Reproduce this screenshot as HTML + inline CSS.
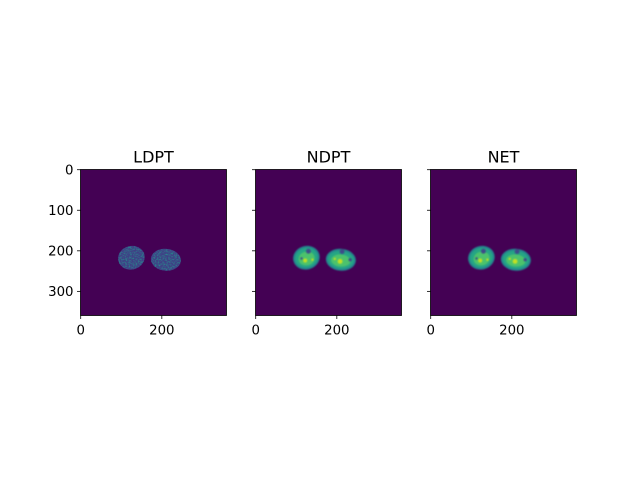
<!DOCTYPE html>
<html><head><meta charset="utf-8"><style>
html,body{margin:0;padding:0;background:#fff;}
svg text{font-family:"DejaVu Sans","Liberation Sans",sans-serif;font-size:13.3px;fill:#000;}
</style></head><body>
<svg id="fig" width="640" height="480" viewBox="0 0 640 480" xmlns="http://www.w3.org/2000/svg">
<defs>
<filter id="noise" x="0" y="0" width="100%" height="100%" color-interpolation-filters="sRGB">
<feTurbulence type="fractalNoise" baseFrequency="0.7" numOctaves="1" seed="3"/>
<feColorMatrix type="matrix" values="0 0 0 0 0.15  0 0 0 0 0.55  0 0 0 0 0.55  0 0 0 3 -1.3"/>
<feComposite in2="SourceGraphic" operator="in"/>
</filter>
<filter id="blur1" color-interpolation-filters="sRGB"><feGaussianBlur stdDeviation="0.8"/></filter>
</defs>
</svg>
<script>
const panelTitles = ["LDPT", "NDPT", "NET"];
const xTicks = [0, 200];
const yTicks = [0, 100, 200, 300];
const extent = [360, 360];
// blob: [cx, cy, rx, ry, rotation]
const blobs = [[125, 217, 33, 29, -15], [210, 222, 37, 27, 5]];
// hot spots (yellow): [x, y, r]
const hotSpots = [[122, 224, 5], [140, 222, 3], [208, 226, 6], [195, 220, 3]];
// cold holes: [x, y, r]
const holes = [[130, 201, 6], [213, 202, 6], [113, 219, 3], [233, 222, 4]];

const NS = "http://www.w3.org/2000/svg";
const svg = document.getElementById("fig");
const left0 = 80.5, top0 = 169.5, size = 146, gap = 175;
function mk(tag, attrs, parent){const e=document.createElementNS(NS,tag);for(const k in attrs)e.setAttribute(k,attrs[k]);(parent||svg).appendChild(e);return e;}

panelTitles.forEach((title, i) => {
  const x0 = left0 + i*gap;
  const sx = v => x0 + (v + 0.5) * size / extent[0];
  const sy = v => top0 + (v + 0.5) * size / extent[1];
  const s = size / extent[0];
  const g = mk("g", {});
  
  
  const clipId = "clip" + i;
  const cp = mk("clipPath", {id: clipId}, g);
  mk("rect", {x: x0, y: top0, width: size, height: size}, cp);
  const bg = mk("rect", {x: x0, y: top0, width: size, height: size, fill: "#440154"}, g);
  
  
  const ig = mk("g", {"clip-path": "url(#" + clipId + ")"}, g);
  blobs.forEach((b, j) => {
    const tr = "rotate(" + b[4] + " " + sx(b[0]) + " " + sy(b[1]) + ")";
    if (i === 0) {
      const e = mk("ellipse", {cx: sx(b[0]), cy: sy(b[1]), rx: b[2]*s, ry: b[3]*s, fill: "#3f3f86", transform: tr}, ig);
      
      
      mk("ellipse", {cx: sx(b[0]), cy: sy(b[1]), rx: b[2]*s, ry: b[3]*s, fill: "#fff", filter: "url(#noise)", transform: tr}, ig);
    } else {
      const bg2 = mk("g", {filter: "url(#blur1)"}, ig);
      const e = mk("ellipse", {cx: sx(b[0]), cy: sy(b[1]), rx: b[2]*s, ry: b[3]*s, fill: "#24878e", transform: tr}, bg2);
      
      
      mk("ellipse", {cx: sx(b[0]), cy: sy(b[1]), rx: (b[2]-5)*s, ry: (b[3]-5)*s, fill: "#25a584", transform: tr}, bg2);
      mk("ellipse", {cx: sx(b[0]), cy: sy(b[1])+2*s, rx: (b[2]-13)*s, ry: (b[3]-12)*s, fill: "#4cc26c", transform: tr}, bg2);
      hotSpots.filter(h => Math.abs(h[0]-b[0]) < b[2]).forEach(h => { const c = mk("circle", {cx: sx(h[0]), cy: sy(h[1]), r: h[2]*s, fill: "#c2df23"}, bg2);   });
      holes.filter(h => Math.abs(h[0]-b[0]) < b[2]).forEach(h => { const c = mk("circle", {cx: sx(h[0]), cy: sy(h[1]), r: h[2]*s, fill: "#3e4a89"}, bg2);   });
    }
  });
  const fr = mk("rect", {x: x0, y: top0, width: size, height: size, fill: "none", stroke: "#000", "stroke-width": 0.8}, g);
  
  
  const t = mk("text", {x: x0 + size/2, y: top0 - 7, "text-anchor": "middle", style: "font-size:16px"}, g);
  t.textContent = title;
  
  
  xTicks.forEach(v => {
    const x = sx(v);
    mk("line", {x1: x, x2: x, y1: top0+size, y2: top0+size+3.5, stroke: "#000", "stroke-width": 0.8}, g);
    const l = mk("text", {x: x, y: top0+size+19, "text-anchor": "middle"}, g);
    l.textContent = v;
    
    
  });
  yTicks.forEach(v => {
    const y = sy(v);
    mk("line", {x1: x0-3.5, x2: x0, y1: y, y2: y, stroke: "#000", "stroke-width": 0.8}, g);
    if (i === 0) {
      const l = mk("text", {x: x0-7, y: y+4.8, "text-anchor": "end"}, g);
      l.textContent = v;
      
      
    }
  });
});
</script>
</body></html>
